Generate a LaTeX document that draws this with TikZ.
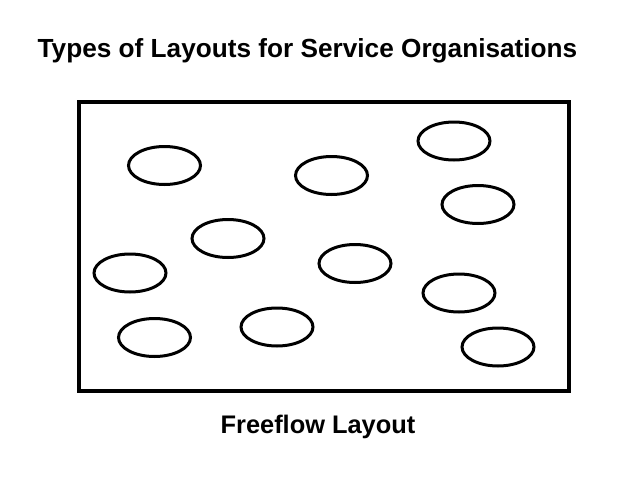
\documentclass[tikz,border=0pt]{standalone}
\usepackage{fontspec}
\setmainfont{Liberation Sans}
\usetikzlibrary{shapes.geometric}
\begin{document}
\begin{tikzpicture}[x=1pt,y=-1pt,
  spot/.style={draw=black,line width=3pt,ellipse,minimum width=72pt,minimum height=38pt,inner sep=0pt},
  frame/.style={draw=black,line width=4pt},
  lbl/.style={font=\bfseries,inner sep=0pt,anchor=base}]
\useasboundingbox (0,0) rectangle (638,479);
\node[frame,minimum width=490pt,minimum height=288.5pt,inner sep=0pt] (box) at (324,246.25) {};
\node[spot] (e1) at (164.5,165.5) {};
\node[spot] (e2) at (331.5,175.5) {};
\node[spot] (e3) at (454,141) {};
\node[spot] (e4) at (478,204.5) {};
\node[spot] (e5) at (228,238.5) {};
\node[spot] (e6) at (355,263.5) {};
\node[spot] (e7) at (130,273) {};
\node[spot] (e8) at (459,293) {};
\node[spot] (e9) at (154.5,337.5) {};
\node[spot] (e10) at (277,327) {};
\node[spot] (e11) at (498,347) {};
\node[lbl,font=\bfseries\fontsize{26.2}{30}\selectfont] (title) at (307.5,57) {Types of Layouts for Service Organisations};
\node[lbl,font=\bfseries\fontsize{25.4}{30}\selectfont] (cap) at (318,433.3) {Freeflow Layout};
\end{tikzpicture}
\end{document}
